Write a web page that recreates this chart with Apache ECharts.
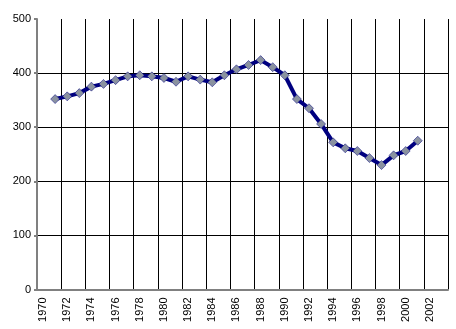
<!DOCTYPE html>
<html><head><meta charset="utf-8">
<script src="https://cdn.jsdelivr.net/npm/echarts@6/dist/echarts.min.js"></script>
<style>html,body{margin:0;padding:0;background:#fff}#c{width:456px;height:329px}</style>
</head><body><div id="c"></div>
<script>
const categories = ['1970','1971','1972','1973','1974','1975','1976','1977','1978','1979','1980','1981','1982','1983','1984','1985','1986','1987','1988','1989','1990','1991','1992','1993','1994','1995','1996','1997','1998','1999','2000','2001','2002','2003'];
const values = [null,352,357,363,375,380,387,394,396,394,391,384,394,388,383,396,407,415,424,411,396,352,335,306,272,261,256,243,230,248,256,275,null,null];
const yTicks = [0,100,200,300,400,500];

const chart = echarts.init(document.getElementById('c'));
chart.setOption({
  animation: false,
  backgroundColor: '#fff',
  grid: {left: 37, top: 19, right: 8, bottom: 39.5},
  xAxis: {
    type: 'category', data: categories, boundaryGap: true,
    axisLine: {lineStyle: {color: '#808080', width: 2}},
    axisTick: {show: false},
    axisLabel: {interval: 1, rotate: 90, margin: 8, color: '#000', fontFamily: 'Liberation Sans, Arial', fontSize: 11},
    splitLine: {show: true, interval: 1, showMinLine: false, lineStyle: {color: '#000', width: 1}}
  },
  yAxis: {
    type: 'value', min: yTicks[0], max: yTicks[yTicks.length-1], interval: 100,
    axisLine: {show: true, lineStyle: {color: '#808080', width: 2}},
    axisTick: {show: true, length: 3, lineStyle: {color: '#808080', width: 2}},
    axisLabel: {margin: 6, color: '#000', fontFamily: 'Liberation Sans, Arial', fontSize: 11},
    splitLine: {show: true, showMinLine: false, showMaxLine: false, lineStyle: {color: '#000', width: 1}}
  },
  series: [{
    type: 'line', data: values, connectNulls: false, showAllSymbol: true,
    lineStyle: {color: '#000080', width: 4},
    symbol: 'diamond', symbolSize: 9,
    itemStyle: {color: '#8a92a0', borderColor: '#000080', borderWidth: 0.5}
  }]
});
</script></body></html>
